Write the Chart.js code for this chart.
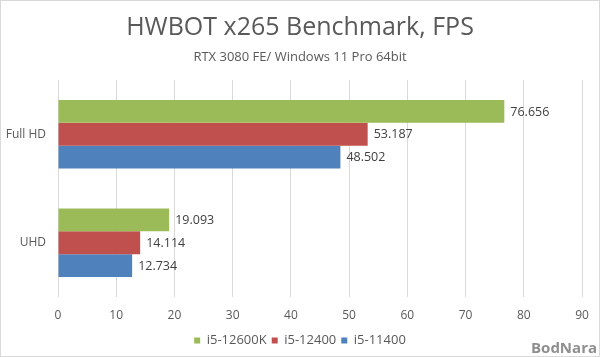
<!DOCTYPE html>
<html>
<head>
<meta charset="utf-8">
<script src="https://cdn.jsdelivr.net/npm/chart.js@4"></script>
<style>
html,body{margin:0;padding:0;background:#fff;}
#wrap{width:600px;height:357px;position:relative;}
</style>
</head>
<body>
<div id="wrap"><canvas id="c" width="600" height="357"></canvas></div>
<script>
const categories = ["Full HD", "UHD"];
const seriesNames = ["i5-12600K", "i5-12400", "i5-11400"];
const i5_12600K = [76.656, 19.093];
const i5_12400 = [53.187, 14.114];
const i5_11400 = [48.502, 12.734];
const xTicks = [0, 10, 20, 30, 40, 50, 60, 70, 80, 90];
const colors = ["#9BBB59", "#C0504D", "#4F81BD"];
const FONT = "'Open Sans', 'Noto Sans', sans-serif";
const PLOT_BOTTOM = 297;

const valueLabels = {
  id: 'valueLabels',
  afterDatasetsDraw(chart) {
    const ctx = chart.ctx;
    ctx.save();
    ctx.font = "12.5px " + FONT;
    ctx.fillStyle = "#404040";
    ctx.textBaseline = "middle";
    ctx.textAlign = "left";
    chart.data.datasets.forEach((ds, i) => {
      chart.getDatasetMeta(i).data.forEach((el, j) => {
        ctx.fillText(ds.data[j].toFixed(3), el.x + 6, el.y + 0.5);
      });
    });
    ctx.restore();
  }
};
const frame = {
  id: 'frame',
  beforeDraw(chart) {
    const ctx = chart.ctx;
    ctx.save();
    ctx.fillStyle = "#fff";
    ctx.fillRect(0, 0, chart.width, chart.height);
    ctx.restore();
  },
  afterDraw(chart) {
    const ctx = chart.ctx;
    ctx.save();
    ctx.strokeStyle = "#d9d9d9";
    ctx.lineWidth = 1;
    ctx.strokeRect(0.5, 0.5, chart.width - 1, chart.height - 1);
    ctx.font = "bold 15px " + FONT;
    ctx.fillStyle = "#8f8f8f";
    ctx.textAlign = "right";
    ctx.textBaseline = "alphabetic";
    ctx.fillText("BodNara", chart.width - 3, chart.height - 4);
    ctx.restore();
  }
};

new Chart(document.getElementById('c'), {
  type: 'bar',
  data: {
    labels: categories,
    datasets: [
      { label: seriesNames[0], data: i5_12600K, backgroundColor: colors[0] },
      { label: seriesNames[1], data: i5_12400, backgroundColor: colors[1] },
      { label: seriesNames[2], data: i5_11400, backgroundColor: colors[2] }
    ]
  },
  options: {
    indexAxis: 'y',
    responsive: false,
    animation: false,
    devicePixelRatio: 1,
    layout: { padding: { left: 0, right: 0, top: 0, bottom: 0 } },
    datasets: { bar: { categoryPercentage: 0.63, barPercentage: 1.0 } },
    plugins: {
      title: {
        display: true,
        text: "HWBOT x265 Benchmark, FPS",
        font: { family: FONT, size: 25, weight: 'normal', lineHeight: 1.2 },
        color: "#595959",
        padding: { top: 12.5, bottom: 3 }
      },
      subtitle: {
        display: true,
        text: "RTX 3080 FE/ Windows 11 Pro 64bit",
        font: { family: FONT, size: 13, weight: 'normal', lineHeight: 1.2 },
        color: "#595959",
        padding: { top: 4.2, bottom: 14.7 }
      },
      legend: {
        position: 'bottom',
        labels: {
          font: { family: FONT, size: 13 },
          color: "#595959",
          boxWidth: 6,
          boxHeight: 6,
          padding: 5
        }
      },
      tooltip: { enabled: false }
    },
    scales: {
      x: {
        min: 0,
        max: 90,
        afterBuildTicks(scale) { scale.ticks = xTicks.map(v => ({ value: v })); },
        afterFit(scale) {
          const ch = scale.chart;
          const lh = ch.legend ? ch.legend.height : 0;
          scale.height = ch.height - lh - PLOT_BOTTOM;
        },
        ticks: { font: { family: FONT, size: 12 }, color: "#595959", padding: 11 },
        grid: { color: "#d9d9d9", drawTicks: false },
        border: { display: false }
      },
      y: {
        afterFit(scale) { scale.width = 58; },
        ticks: { font: { family: FONT, size: 12 }, color: "#595959", padding: 12 },
        grid: { display: false, drawTicks: false },
        border: { display: false }
      },
      yRight: {
        axis: 'y',
        type: 'category',
        position: 'right',
        afterFit(scale) { scale.width = 18; },
        ticks: { display: false },
        grid: { display: false, drawTicks: false },
        border: { display: false }
      }
    }
  },
  plugins: [frame, valueLabels]
});
</script>
</body>
</html>
